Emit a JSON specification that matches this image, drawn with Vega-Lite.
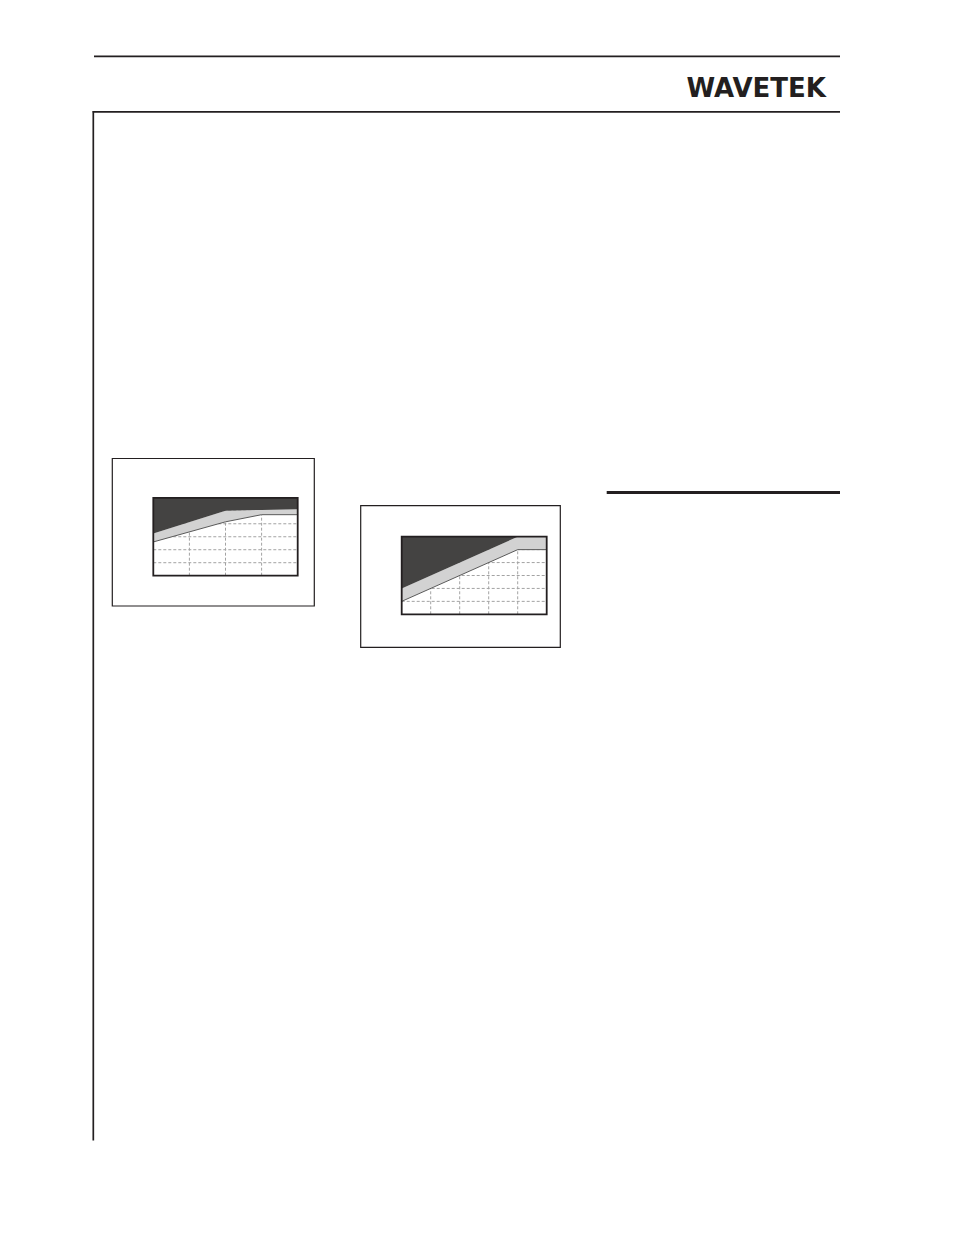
{
  "$schema": "https://vega.github.io/schema/vega-lite/v6.json",
  "width": 954,
  "height": 1235,
  "padding": 0,
  "autosize": "none",
  "background": "white",
  "config": {"view": {"stroke": null}},
  "datasets": {
    "pageRules": [
      {"item": "header top", "x": 94, "x2": 840, "y": 56.3, "y2": 56.3},
      {"item": "header bottom", "x": 92.7, "x2": 840, "y": 111.8, "y2": 111.8},
      {"item": "margin", "x": 93.3, "x2": 93.3, "y": 111, "y2": 1140.5}
    ],
    "sectionRule": [
      {"item": "section", "x": 606.7, "x2": 840, "y": 492.5, "y2": 492.5}
    ],
    "figureFrames": [
      {"figure": "left", "x": 112.3, "x2": 314.3, "y": 458.5, "y2": 606},
      {"figure": "right", "x": 360.7, "x2": 560.3, "y": 505.7, "y2": 647.3}
    ],
    "logo": [{"label": "WAVETEK", "x": 826, "y": 96.5}],
    "fig1": [
      {"x": 0, "upper": 3.25, "lower": 2.6},
      {"x": 2, "upper": 5.0, "lower": 4.15},
      {"x": 3, "upper": 5.07, "lower": 4.7},
      {"x": 4, "upper": 5.12, "lower": 4.7}
    ],
    "fig2": [
      {"x": 0, "upper": 2.0, "lower": 1.0},
      {"x": 4, "upper": 6.0, "lower": 5.0},
      {"x": 5, "upper": 6.0, "lower": 5.0}
    ]
  },
  "layer": [
    {
      "layer": [
        {
          "data": {"name": "pageRules"},
          "mark": {"type": "rule", "stroke": "#231f20", "strokeWidth": 1.7},
          "encoding": {
            "x": {"field": "x", "type": "quantitative", "scale": {"domain": [0, 954], "range": [0, 954], "nice": false, "zero": false}, "axis": null},
            "x2": {"field": "x2"},
            "y": {"field": "y", "type": "quantitative", "scale": {"domain": [0, 1235], "range": [0, 1235], "nice": false, "zero": false}, "axis": null},
            "y2": {"field": "y2"}
          }
        },
        {
          "data": {"name": "sectionRule"},
          "mark": {"type": "rule", "stroke": "#231f20", "strokeWidth": 3.2},
          "encoding": {
            "x": {"field": "x", "type": "quantitative", "scale": {"domain": [0, 954], "range": [0, 954], "nice": false, "zero": false}, "axis": null},
            "x2": {"field": "x2"},
            "y": {"field": "y", "type": "quantitative", "scale": {"domain": [0, 1235], "range": [0, 1235], "nice": false, "zero": false}, "axis": null},
            "y2": {"field": "y2"}
          }
        },
        {
          "data": {"name": "figureFrames"},
          "mark": {"type": "rect", "filled": false, "stroke": "#231f20", "strokeWidth": 1.2},
          "encoding": {
            "x": {"field": "x", "type": "quantitative", "scale": {"domain": [0, 954], "range": [0, 954], "nice": false, "zero": false}, "axis": null},
            "x2": {"field": "x2"},
            "y": {"field": "y", "type": "quantitative", "scale": {"domain": [0, 1235], "range": [0, 1235], "nice": false, "zero": false}, "axis": null},
            "y2": {"field": "y2"}
          }
        },
        {
          "data": {"name": "logo"},
          "mark": {"type": "text", "font": "DejaVu Sans", "fontWeight": "bold", "fontSize": 26, "align": "right", "baseline": "alphabetic", "fill": "#231f20"},
          "encoding": {
            "x": {"field": "x", "type": "quantitative", "scale": {"domain": [0, 954], "range": [0, 954], "nice": false, "zero": false}, "axis": null},
            "y": {"field": "y", "type": "quantitative", "scale": {"domain": [0, 1235], "range": [0, 1235], "nice": false, "zero": false}, "axis": null},
            "text": {"field": "label"}
          }
        }
      ]
    },
    {
      "layer": [
        {
          "data": {"values": [{"g": 1}, {"g": 2}, {"g": 3}]},
          "mark": {"type": "rule", "stroke": "#a3a3a3", "strokeWidth": 1, "strokeDash": [3, 2]},
          "encoding": {
            "x": {"field": "g", "type": "quantitative", "scale": {"domain": [0, 4], "range": [153.3, 297.7], "nice": false, "zero": false}, "axis": null},
            "y": {"datum": 0, "type": "quantitative", "scale": {"domain": [0, 6], "range": [575.7, 497.8], "nice": false, "zero": false}, "axis": null},
            "y2": {"datum": 6}
          }
        },
        {
          "data": {"values": [{"g": 1}, {"g": 2}, {"g": 3}, {"g": 4}, {"g": 5}]},
          "mark": {"type": "rule", "stroke": "#a3a3a3", "strokeWidth": 1, "strokeDash": [3, 2]},
          "encoding": {
            "y": {"field": "g", "type": "quantitative", "scale": {"domain": [0, 6], "range": [575.7, 497.8], "nice": false, "zero": false}, "axis": null},
            "x": {"datum": 0, "type": "quantitative", "scale": {"domain": [0, 4], "range": [153.3, 297.7], "nice": false, "zero": false}, "axis": null},
            "x2": {"datum": 4}
          }
        },
        {
          "data": {"name": "fig1"},
          "mark": {"type": "area", "fill": "#d2d2d2", "stroke": null},
          "encoding": {
            "x": {"field": "x", "type": "quantitative", "scale": {"domain": [0, 4], "range": [153.3, 297.7], "nice": false, "zero": false}, "axis": null},
            "y": {"field": "lower", "type": "quantitative", "scale": {"domain": [0, 6], "range": [575.7, 497.8], "nice": false, "zero": false}, "axis": null},
            "y2": {"field": "upper"}
          }
        },
        {
          "data": {"name": "fig1"},
          "mark": {"type": "area", "fill": "#444342", "stroke": null},
          "encoding": {
            "x": {"field": "x", "type": "quantitative", "scale": {"domain": [0, 4], "range": [153.3, 297.7], "nice": false, "zero": false}, "axis": null},
            "y": {"field": "upper", "type": "quantitative", "scale": {"domain": [0, 6], "range": [575.7, 497.8], "nice": false, "zero": false}, "axis": null},
            "y2": {"datum": 6}
          }
        },
        {
          "data": {"name": "fig1"},
          "mark": {"type": "line", "stroke": "#5a5a5a", "strokeWidth": 1},
          "encoding": {
            "x": {"field": "x", "type": "quantitative", "scale": {"domain": [0, 4], "range": [153.3, 297.7], "nice": false, "zero": false}, "axis": null},
            "y": {"field": "lower", "type": "quantitative", "scale": {"domain": [0, 6], "range": [575.7, 497.8], "nice": false, "zero": false}, "axis": null}
          }
        },
        {
          "data": {"values": [{}]},
          "mark": {"type": "rect", "filled": false, "stroke": "#231f20", "strokeWidth": 1.8},
          "encoding": {
            "x": {"datum": 0, "type": "quantitative", "scale": {"domain": [0, 4], "range": [153.3, 297.7], "nice": false, "zero": false}, "axis": null},
            "x2": {"datum": 4},
            "y": {"datum": 0, "type": "quantitative", "scale": {"domain": [0, 6], "range": [575.7, 497.8], "nice": false, "zero": false}, "axis": null},
            "y2": {"datum": 6}
          }
        }
      ]
    },
    {
      "layer": [
        {
          "data": {"values": [{"g": 1}, {"g": 2}, {"g": 3}, {"g": 4}]},
          "mark": {"type": "rule", "stroke": "#a3a3a3", "strokeWidth": 1, "strokeDash": [3, 2]},
          "encoding": {
            "x": {"field": "g", "type": "quantitative", "scale": {"domain": [0, 5], "range": [401.7, 546.7], "nice": false, "zero": false}, "axis": null},
            "y": {"datum": 0, "type": "quantitative", "scale": {"domain": [0, 6], "range": [614.3, 536.7], "nice": false, "zero": false}, "axis": null},
            "y2": {"datum": 6}
          }
        },
        {
          "data": {"values": [{"g": 1}, {"g": 2}, {"g": 3}, {"g": 4}, {"g": 5}]},
          "mark": {"type": "rule", "stroke": "#a3a3a3", "strokeWidth": 1, "strokeDash": [3, 2]},
          "encoding": {
            "y": {"field": "g", "type": "quantitative", "scale": {"domain": [0, 6], "range": [614.3, 536.7], "nice": false, "zero": false}, "axis": null},
            "x": {"datum": 0, "type": "quantitative", "scale": {"domain": [0, 5], "range": [401.7, 546.7], "nice": false, "zero": false}, "axis": null},
            "x2": {"datum": 5}
          }
        },
        {
          "data": {"name": "fig2"},
          "mark": {"type": "area", "fill": "#d2d2d2", "stroke": null},
          "encoding": {
            "x": {"field": "x", "type": "quantitative", "scale": {"domain": [0, 5], "range": [401.7, 546.7], "nice": false, "zero": false}, "axis": null},
            "y": {"field": "lower", "type": "quantitative", "scale": {"domain": [0, 6], "range": [614.3, 536.7], "nice": false, "zero": false}, "axis": null},
            "y2": {"field": "upper"}
          }
        },
        {
          "data": {"name": "fig2"},
          "mark": {"type": "area", "fill": "#444342", "stroke": null},
          "encoding": {
            "x": {"field": "x", "type": "quantitative", "scale": {"domain": [0, 5], "range": [401.7, 546.7], "nice": false, "zero": false}, "axis": null},
            "y": {"field": "upper", "type": "quantitative", "scale": {"domain": [0, 6], "range": [614.3, 536.7], "nice": false, "zero": false}, "axis": null},
            "y2": {"datum": 6}
          }
        },
        {
          "data": {"name": "fig2"},
          "mark": {"type": "line", "stroke": "#5a5a5a", "strokeWidth": 1},
          "encoding": {
            "x": {"field": "x", "type": "quantitative", "scale": {"domain": [0, 5], "range": [401.7, 546.7], "nice": false, "zero": false}, "axis": null},
            "y": {"field": "lower", "type": "quantitative", "scale": {"domain": [0, 6], "range": [614.3, 536.7], "nice": false, "zero": false}, "axis": null}
          }
        },
        {
          "data": {"values": [{}]},
          "mark": {"type": "rect", "filled": false, "stroke": "#231f20", "strokeWidth": 1.8},
          "encoding": {
            "x": {"datum": 0, "type": "quantitative", "scale": {"domain": [0, 5], "range": [401.7, 546.7], "nice": false, "zero": false}, "axis": null},
            "x2": {"datum": 5},
            "y": {"datum": 0, "type": "quantitative", "scale": {"domain": [0, 6], "range": [614.3, 536.7], "nice": false, "zero": false}, "axis": null},
            "y2": {"datum": 6}
          }
        }
      ]
    }
  ],
  "resolve": {"scale": {"x": "independent", "y": "independent"}}
}
